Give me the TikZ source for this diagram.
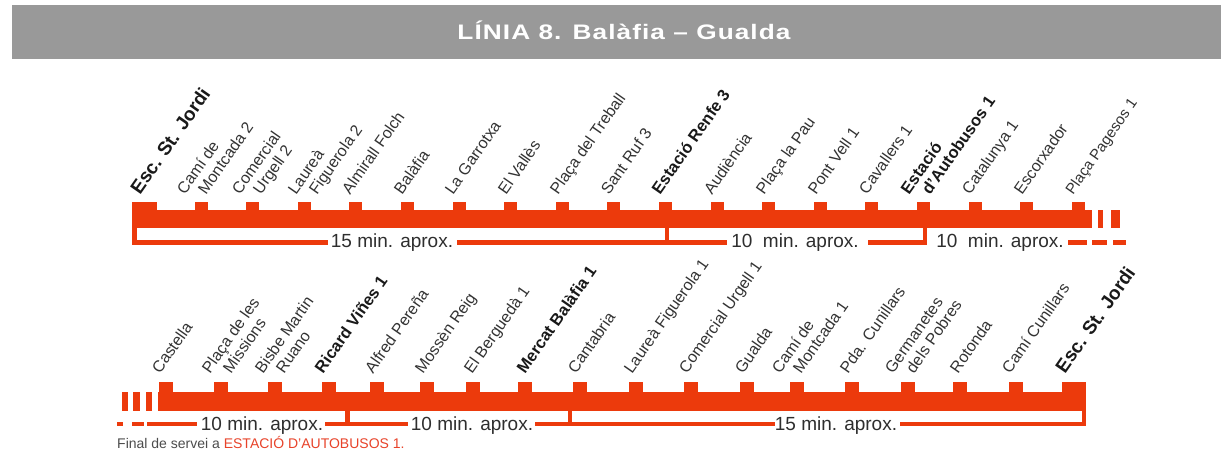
\documentclass[tikz,border=0pt]{standalone}
\usepackage{fontspec}
\setmainfont{Liberation Sans}
\usepackage{graphicx}
\usepackage{xcolor}
\usetikzlibrary{positioning,calc}

\definecolor{linered}{RGB}{236,58,12}
\definecolor{headgray}{RGB}{153,153,153}
\definecolor{notered}{RGB}{232,67,42}

\begin{document}
\begin{tikzpicture}[x=1pt, y=-1pt,
    stn/.style={rotate=55, anchor=base west, inner sep=0pt, text=black!80, font=\fontsize{16}{16}\selectfont},
    stnbold/.style={stn, text=black!90, font=\fontsize{16.5}{16.5}\selectfont\bfseries},
    terminus/.style={stn, text=black!90, font=\fontsize{19}{19}\selectfont\bfseries},
    mins/.style={anchor=base, inner sep=0pt, text=black!82, font=\fontsize{19}{19}\selectfont},
    tline/.style={draw=linered, line width=4.5pt},
    title/.style={anchor=base, inner sep=0pt, text=white, font=\fontsize{21}{24}\selectfont\bfseries\addfontfeatures{LetterSpace=4}}
  ]
    \useasboundingbox (0,0) rectangle (1221,455);
    \fill[white] (0,0) rectangle (1221,455);

    \fill[headgray] (12,5) rectangle (1221,59);
    \node[title] (head) at (624,39) {\scalebox{1.25}[1]{LÍNIA 8. Balàfia – Gualda}};

    % upper line
    \fill[linered] (132,210) rectangle (1091.5,228);
    \fill[linered] (132,202) rectangle (156.5,210.5);
    \foreach \k in {0,...,17}
      \fill[linered] ({201+51.6*\k-6.5},202) rectangle ({201+51.6*\k+6.5},210.5);
    \fill[linered] (1098,210) rectangle (1103,228);
    \fill[linered] (1110.5,210) rectangle (1120,228);

    \node[terminus] (t0)  at (140,195.5)  {Esc. St. Jordi};
    \node[stn]      (t1)  at (185,195.5)  {Camí de};
    \node[stn]      (t1b) at ([xshift=21pt]t1.base west) {Montcada 2};
    \node[stn]      (t2)  at (240,195.5)  {Comercial};
    \node[stn]      (t2b) at ([xshift=21pt]t2.base west) {Urgell 2};
    \node[stn]      (t3)  at (296,195.5)  {Laureà};
    \node[stn]      (t3b) at ([xshift=21pt]t3.base west) {Figuerola 2};
    \node[stn]      (t4)  at (350,195.5)  {Almirall Folch};
    \node[stn]      (t5)  at (402,195.5)  {Balàfia};
    \node[stn]      (t6)  at (453,195.5)  {La Garrotxa};
    \node[stn]      (t7)  at (506,195.5)  {El Vallès};
    \node[stn]      (t8)  at (558,195.5)  {Plaça del Treball};
    \node[stn]      (t9)  at (609,195.5)  {Sant Ruf 3};
    \node[stnbold]  (t10) at (660,195.5)  {Estació Renfe 3};
    \node[stn]      (t11) at (712,195.5)  {Audiència};
    \node[stn]      (t12) at (764,195.5)  {Plaça la Pau};
    \node[stn]      (t13) at (816,195.5)  {Pont Vell 1};
    \node[stn]      (t14) at (867,195.5)  {Cavallers 1};
    \node[stnbold]  (t15) at (909,195.5)  {Estació};
    \node[stnbold]  (t15b) at ([xshift=21pt]t15.base west) {d'Autobusos 1};
    \node[stn]      (t16) at (970,195.5)  {Catalunya 1};
    \node[stn]      (t17) at (1022,195.5) {Escorxador};
    \node[stn, font=\fontsize{15}{15}\selectfont] (t18) at (1073,195.5) {Plaça Pagesos 1};

    \draw[tline] (134.5,228) -- (134.5,242.5) -- (328,242.5);
    \draw[tline] (457,242.5) -- (727,242.5);
    \draw[tline] (667,228) -- (667,242.5);
    \draw[tline] (868,242.5) -- (925,242.5) -- (925,228);
    \draw[tline] (1068,242.5) -- (1087,242.5);
    \draw[tline] (1092,242.5) -- (1107,242.5);
    \draw[tline] (1113,242.5) -- (1126,242.5);
    \node[mins] (m1) at (392,247)  {15 min. aprox.};
    \node[mins] (m2) at (795,247)  {10\ \ min. aprox.};
    \node[mins] (m3) at (1000,247) {10\ \ min. aprox.};

    % lower line
    \fill[linered] (158,392) rectangle (1086,411);
    \foreach \x in {166,221,275,329,377,427,473,525,580,636,691,747,797,852,908,960,1016}
      \fill[linered] (\x-7,382) rectangle (\x+7,392.5);
    \fill[linered] (1062,382) rectangle (1086,392.5);
    \fill[linered] (122,392) rectangle (128,411);
    \fill[linered] (133,392) rectangle (140,411);
    \fill[linered] (146,392) rectangle (152,411);

    \node[stn]      (b1)  at (160,374.5)  {Castella};
    \node[stn]      (b2)  at (210,374.5)  {Plaça de les};
    \node[stn]      (b2b) at ([xshift=21pt]b2.base west) {Missions};
    \node[stn]      (b3)  at (263,374.5)  {Bisbe Martin};
    \node[stn]      (b3b) at ([xshift=21pt]b3.base west) {Ruano};
    \node[stnbold]  (b4)  at (323,374.5)  {Ricard Viñes 1};
    \node[stn]      (b5)  at (373,374.5)  {Alfred Pereña};
    \node[stn]      (b6)  at (423,374.5)  {Mossèn Reig};
    \node[stn]      (b7)  at (472,374.5)  {El Berguedà 1};
    \node[stnbold]  (b8)  at (525,374.5)  {Mercat Balàfia 1};
    \node[stn]      (b9)  at (576,374.5)  {Cantabria};
    \node[stn]      (b10) at (632,374.5)  {Laureà Figuerola 1};
    \node[stn]      (b11) at (687,374.5)  {Comercial Urgell 1};
    \node[stn]      (b12) at (743,374.5)  {Gualda};
    \node[stn]      (b13) at (780,374.5)  {Camí de};
    \node[stn]      (b13b) at ([xshift=21pt]b13.base west) {Montcada 1};
    \node[stn]      (b14) at (848,374.5)  {Pda. Cunillars};
    \node[stn]      (b15) at (893,374.5)  {Germanetes};
    \node[stn]      (b15b) at ([xshift=21pt]b15.base west) {dels Pobres};
    \node[stn]      (b16) at (958,374.5)  {Rotonda};
    \node[stn]      (b17) at (1010,374.5) {Camí Cunillars};
    \node[terminus] (b18) at (1065,374.5) {Esc. St. Jordi};

    \draw[tline] (117,424) -- (123,424);
    \draw[tline] (132,424) -- (144,424);
    \draw[tline] (147,424) -- (197,424);
    \draw[tline] (325,424) -- (408,424);
    \draw[tline] (347.5,411) -- (347.5,424);
    \draw[tline] (535,424) -- (775,424);
    \draw[tline] (570,411) -- (570,424);
    \draw[tline] (900,424) -- (1083.75,424) -- (1083.75,411);
    \node[mins] (m4) at (262,430) {10 min. aprox.};
    \node[mins] (m5) at (472,430) {10 min. aprox.};
    \node[mins] (m6) at (836,430) {15 min. aprox.};

    \node[anchor=base west, inner sep=0pt, text=black!70, font=\fontsize{14}{14}\selectfont] (note) at (117,448)
      {Final de servei a \textcolor{notered}{ESTACIÓ D'AUTOBUSOS 1.}};
  \end{tikzpicture}
\end{document}
